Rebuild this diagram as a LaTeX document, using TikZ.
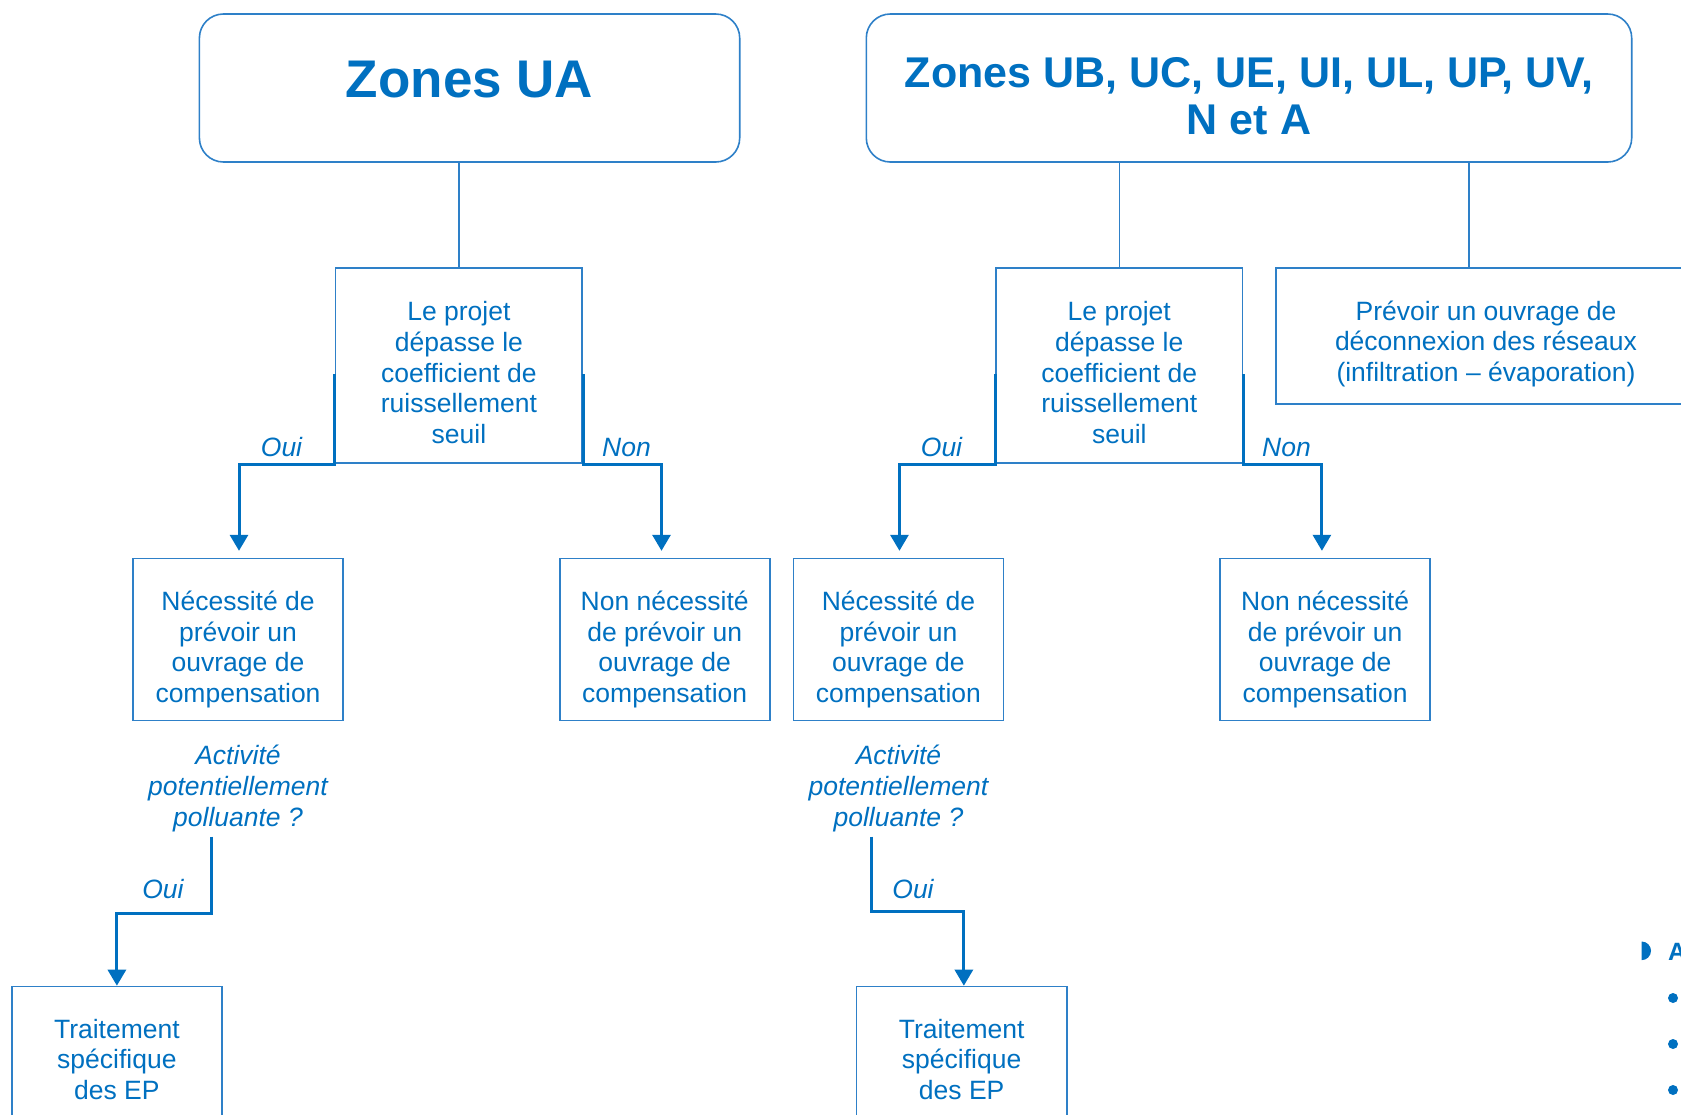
\documentclass[tikz,border=0pt]{standalone}
\usepackage{fontspec}
\setmainfont{Liberation Sans}
\usetikzlibrary{arrows.meta,calc}
\definecolor{tblue}{RGB}{0,112,192}
\definecolor{lblue}{RGB}{46,128,200}
\newcommand{\tstr}{\rule{0pt}{22pt}}
\begin{document}
\begin{tikzpicture}[x=1pt,y=-1pt,
  box/.style={draw=lblue, line width=1.6pt, rectangle, inner sep=0pt},
  zonebox/.style={box, rounded corners=24pt},
  txt/.style={text=tblue, font=\fontsize{26.5}{30.7}\selectfont, align=center, inner sep=0pt, anchor=north},
  itxt/.style={txt, font=\fontsize{26.5}{30.7}\selectfont\itshape},
  lbl/.style={text=tblue, font=\fontsize{26.5}{30.7}\selectfont\itshape, inner sep=0pt, anchor=base},
  thinline/.style={draw=lblue, line width=1.6pt},
  arr/.style={draw=tblue, line width=3pt, -{Triangle[width=18pt,length=16pt]}},
]
\useasboundingbox (0,0) rectangle (1681,1114);
\begin{scope}
\clip (0,0) rectangle (1681,1114);

% top zone boxes
\node[zonebox, minimum width=540.3pt, minimum height=148pt] (zua) at (469.55,88) {};
\node[text=tblue, font=\fontsize{53}{60}\selectfont\bfseries, inner sep=0pt, anchor=base] (tua) at (469.6,97) {Zones UA};
\node[zonebox, minimum width=765.4pt, minimum height=148pt] (zub) at (1249,88) {};
\node[text=tblue, font=\fontsize{43}{47.5}\selectfont\bfseries, align=center, inner sep=0pt, anchor=north] (tub) at (1249,49) {\rule{0pt}{38pt}Zones UB, UC, UE, UI, UL, UP, UV,\\N et A};

% decision boxes
\node[box, minimum width=246.6pt, minimum height=195.2pt] (lp1) at (458.9,365.6) {};
\node[txt] (lp1t) at (458.9,298.5) {\tstr Le projet\\dépasse le\\coefficient de\\ruissellement\\seuil};
\node[box, minimum width=246.6pt, minimum height=195.2pt] (lp2) at (1119.3,365.6) {};
\node[txt] (lp2t) at (1119.3,298.5) {\tstr Le projet\\dépasse le\\coefficient de\\ruissellement\\seuil};

\node[box, minimum width=420.2pt, minimum height=136.2pt] (pv) at (1485.9,336.1) {};
\node[txt] (pvt) at (1486,298) {\tstr Prévoir un ouvrage de\\déconnexion des réseaux\\(infiltration -- évaporation)};

% level 3 boxes
\node[box, minimum width=210pt, minimum height=161.9pt] (n1) at (238,639.55) {};
\node[txt] (n1t) at (238,588.3) {\tstr Nécessité de\\prévoir un\\ouvrage de\\compensation};
\node[box, minimum width=210pt, minimum height=161.9pt] (nn1) at (664.7,639.55) {};
\node[txt] (nn1t) at (664.7,588.3) {\tstr Non nécessité\\de prévoir un\\ouvrage de\\compensation};
\node[box, minimum width=210pt, minimum height=161.9pt] (n2) at (898.45,639.55) {};
\node[txt] (n2t) at (898.45,588.3) {\tstr Nécessité de\\prévoir un\\ouvrage de\\compensation};
\node[box, minimum width=210pt, minimum height=161.9pt] (nn2) at (1325.1,639.55) {};
\node[txt] (nn2t) at (1325.1,588.3) {\tstr Non nécessité\\de prévoir un\\ouvrage de\\compensation};

% questions
\node[itxt] (act1) at (238,742.5) {\tstr Activité\\potentiellement\\polluante ?};
\node[itxt] (act2) at (898.45,742.5) {\tstr Activité\\potentiellement\\polluante ?};

% bottom boxes
\node[box, minimum width=210.2pt, minimum height=213.5pt] (t1) at (116.9,1093.25) {};
\node[txt] (t1t) at (116.9,1016) {\tstr Traitement\\spécifique\\des EP};
\node[box, minimum width=210.2pt, minimum height=213.5pt] (t2) at (961.65,1093.25) {};
\node[txt] (t2t) at (961.65,1016) {\tstr Traitement\\spécifique\\des EP};

% thin connectors
\draw[thinline] (lp1.north) -- (lp1.north |- zua.south);
\draw[thinline] (lp2.north) -- (lp2.north |- zub.south);
\coordinate (pvc) at ($(pv.north west)+(194.1,0)$);
\draw[thinline] (pvc) -- (pvc |- zub.south);

% thick arrows
\draw[arr, shorten >=7pt] ($(lp1.south west)+(0,-90)$) -- (lp1.south west) -| ($(n1.north)+(1,0)$);
\draw[arr, shorten >=7pt] ($(lp1.south east)+(0,-90)$) -- (lp1.south east) -| ($(nn1.north)+(-3.2,0)$);
\draw[arr, shorten >=7pt] ($(lp2.south west)+(0,-90)$) -- (lp2.south west) -| ($(n2.north)+(1,0)$);
\draw[arr, shorten >=7pt] ($(lp2.south east)+(0,-90)$) -- (lp2.south east) -| ($(nn2.north)+(-3.2,0)$);
\draw[arr] ($(act1.north)+(-26.8,94)$) -- ++(0,77) -| (t1.north);
\draw[arr] ($(act2.north)+(-26.8,94)$) -- ++(0,75) -| ($(t2.north)+(2.2,0)$);

% labels
\node[lbl] (oui1) at (281.5,456) {Oui};
\node[lbl] (non1) at (626.5,456) {Non};
\node[lbl] (oui2) at (941.5,456) {Oui};
\node[lbl] (non2) at (1286.5,456) {Non};
\node[lbl] (oui3) at (163,898) {Oui};
\node[lbl] (oui4) at (913,898) {Oui};

% cut-off fragment at the right edge
\fill[tblue] (1641.7,941.5) arc[start angle=-90, end angle=90, radius=9.3] -- cycle;
\node[text=tblue, font=\fontsize{25}{30}\selectfont\bfseries, anchor=base west, inner sep=0pt] (fa) at (1668,960) {A};
\fill[tblue] (1673,998) circle[radius=5];
\fill[tblue] (1673,1044) circle[radius=5];
\fill[tblue] (1673,1090) circle[radius=5];
\end{scope}
\end{tikzpicture}
\end{document}
